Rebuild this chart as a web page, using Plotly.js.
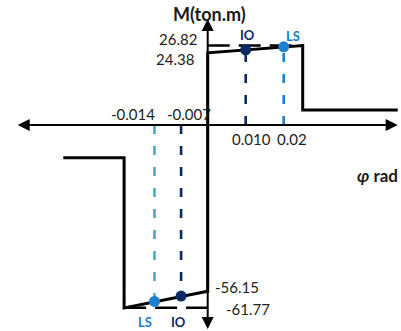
<!DOCTYPE html>
<html>
<head>
<meta charset="utf-8">
<script src="https://cdn.plot.ly/plotly-3.0.1.min.js"></script>
<style>html,body{margin:0;padding:0;background:#fff;}#chart{width:401px;height:331px;}</style>
</head>
<body>
<div id="chart"></div>
<script>
// Backbone (moment-rotation) curve, positive and negative branches
const posPhi = [0, 0, 0.025, 0.025, 0.05];
const posM   = [0, 24.38, 26.82, 5.1, 5.1];
const negPhi = [0, 0, -0.022, -0.022, -0.038];
const negM   = [0, -56.15, -61.77, -11.1, -11.1];

// Performance points
const ioPhi = [0.010, -0.007];
const ioM   = [25.4, -57.8];
const lsPhi = [0.02, -0.014];
const lsM   = [26.4, -59.6];

// Peak moment reference levels
const peakPos = 26.82;
const peakNeg = -61.77;
const peakPosSpan = [0, 0.025];
const peakNegSpan = [-0.022, 0];

// Tick labels
const phiTicks = [-0.014, -0.007, 0.010, 0.02];
const phiTickText = ["-0.014", "-0.007", "0.010", "0.02"];
const mTicks = [26.82, 24.38, -56.15, -61.77];
const mTickText = ["26.82", "24.38", "-56.15", "-61.77"];

// Axis extents
const phiAxis = [-0.05, 0.05];
const mAxis = [-68.9, 35.8];

const FONT = "Lato, 'Open Sans', sans-serif";
const navy = "#0B2A63";
const blue = "#1A80D2";
const teal = "#4BA9C3";

const traces = [];
// peak dashed levels
traces.push({x: peakPosSpan, y: [peakPos, peakPos], mode: "lines", line: {color: "#000", width: 2.5, dash: "22px,9px"}, hoverinfo: "skip"});
traces.push({x: peakNegSpan, y: [peakNeg, peakNeg], mode: "lines", line: {color: "#000", width: 2.5, dash: "22px,9px"}, hoverinfo: "skip"});
// curve
traces.push({x: posPhi, y: posM, mode: "lines", line: {color: "#000", width: 3}, hoverinfo: "skip"});
traces.push({x: negPhi, y: negM, mode: "lines", line: {color: "#000", width: 3}, hoverinfo: "skip"});
// vertical dashed lines for IO / LS
const dashCols = {io: [navy, navy], ls: [blue, teal]};
for (let i = 0; i < 2; i++) {
  traces.push({x: [ioPhi[i], ioPhi[i]], y: [0, ioM[i]], mode: "lines", line: {color: dashCols.io[i], width: 2.6, dash: "9px,12px"}, hoverinfo: "skip"});
  traces.push({x: [lsPhi[i], lsPhi[i]], y: [0, lsM[i]], mode: "lines", line: {color: dashCols.ls[i], width: 2.6, dash: "9px,12px"}, hoverinfo: "skip"});
}
// markers
traces.push({x: ioPhi, y: ioM, mode: "markers", marker: {color: navy, size: 11}, hoverinfo: "skip"});
traces.push({x: lsPhi, y: lsM, mode: "markers", marker: {color: blue, size: 11}, hoverinfo: "skip"});

const ann = [];
// axes with arrows
function arrow(x0, y0, x1, y1) {
  ann.push({x: x1, y: y1, ax: x0, ay: y0, xref: "x", yref: "y", axref: "x", ayref: "y",
    text: "", showarrow: true, arrowhead: 2, arrowsize: 1.2, arrowwidth: 2, arrowcolor: "#000", standoff: 0, startstandoff: 0});
}
arrow(0, 0, phiAxis[1], 0);
arrow(0, 0, phiAxis[0], 0);
arrow(0, 0, 0, mAxis[1]);
arrow(0, 0, 0, mAxis[0]);

function txt(x, y, s, opts) {
  ann.push(Object.assign({x: x, y: y, xref: "x", yref: "y", text: s, showarrow: false,
    font: {family: FONT, size: 15, color: "#222"}, xanchor: "center", yanchor: "middle"}, opts || {}));
}
// phi tick labels
txt(phiTicks[0] - 0.0056, 3.7, phiTickText[0]);
txt(phiTicks[1] + 0.0020, 3.7, phiTickText[1]);
txt(phiTicks[2] + 0.0014, -4.8, phiTickText[2]);
txt(phiTicks[3] + 0.0022, -4.8, phiTickText[3]);
// moment labels
txt(-0.0023, mTicks[0] + 2.2, mTickText[0], {xanchor: "right"});
txt(-0.0031, mTicks[1] - 2.2, mTickText[1], {xanchor: "right"});
txt(0.0014, mTicks[2] + 1.5, mTickText[2], {xanchor: "left"});
txt(0.0043, mTicks[3] - 0.5, mTickText[3], {xanchor: "left"});
// axis titles
txt(0.0006, 37.6, "<b>M(ton.m)</b>", {font: {family: FONT, size: 18, color: "#1a1a1a"}});
txt(0.0448, -17.2, "<b><i>φ</i> rad</b>", {font: {family: FONT, size: 17, color: "#1a1a1a"}});
// IO / LS labels
txt(ioPhi[0] + 0.0005, 30.4, "<b>IO</b>", {font: {family: FONT, size: 13, color: navy}});
txt(lsPhi[0] + 0.0024, 30.2, "<b>LS</b>", {font: {family: FONT, size: 13, color: blue}});
txt(ioPhi[1] - 0.0008, -66.4, "<b>IO</b>", {font: {family: FONT, size: 13, color: navy}});
txt(lsPhi[1] - 0.0025, -66.6, "<b>LS</b>", {font: {family: FONT, size: 13, color: blue}});

const layout = {
  width: 401, height: 331,
  margin: {l: 0, r: 0, t: 0, b: 0},
  paper_bgcolor: "#fff", plot_bgcolor: "#fff",
  showlegend: false,
  xaxis: {range: [-0.05466, 0.05087], visible: false, fixedrange: true},
  yaxis: {range: [-69.59, 42.23], visible: false, fixedrange: true},
  annotations: ann
};
Plotly.newPlot("chart", traces, layout, {staticPlot: true, displayModeBar: false});
</script>
</body>
</html>
